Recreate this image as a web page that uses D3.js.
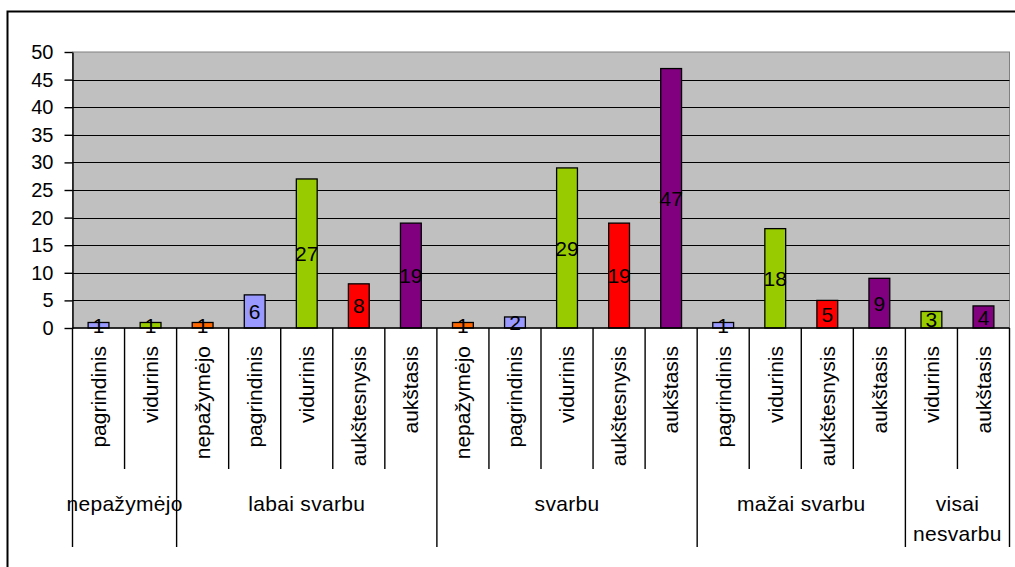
<!DOCTYPE html>
<html>
<head>
<meta charset="utf-8">
<script src="https://cdn.jsdelivr.net/npm/d3@7"></script>
<style>
  body { margin: 0; background: #fff; }
  svg { display: block; }
  text { font-family: "Liberation Sans", Arial, sans-serif; fill: #000; }
</style>
</head>
<body>
<svg id="chart" width="1015" height="567"></svg>
<script>
// Importance groups and the education levels answered inside each
const groupNames = ["nepažymėjo", "labai svarbu", "svarbu", "mažai svarbu", "visai nesvarbu"];
const groupLevels = [
  ["pagrindinis", "vidurinis"],
  ["nepažymėjo", "pagrindinis", "vidurinis", "aukštesnysis", "aukštasis"],
  ["nepažymėjo", "pagrindinis", "vidurinis", "aukštesnysis", "aukštasis"],
  ["pagrindinis", "vidurinis", "aukštesnysis", "aukštasis"],
  ["vidurinis", "aukštasis"]
];
const groupValues = [
  [1, 1],
  [1, 6, 27, 8, 19],
  [1, 2, 29, 19, 47],
  [1, 18, 5, 9],
  [3, 4]
];
const levelNames = ["nepažymėjo", "pagrindinis", "vidurinis", "aukštesnysis", "aukštasis"];
const levelColors = ["#FF6600", "#9999FF", "#99CC00", "#FF0000", "#800080"];
const yTicks = [0, 5, 10, 15, 20, 25, 30, 35, 40, 45, 50];

const bars = groupNames.flatMap((g, gi) =>
  groupLevels[gi].map((lv, li) => ({ group: g, gi, level: lv, value: groupValues[gi][li], key: gi + "|" + lv }))
);

const svg = d3.select("#chart");
const W = 1015, H = 567;
const plot = { left: 72.5, top: 52, right: 1009.5, bottom: 328 };
const innerDivEnd = 469, groupDivEnd = 547;

const x = d3.scaleBand().domain(bars.map(d => d.key)).range([plot.left, plot.right]).padding(0);
const y = d3.scaleLinear().domain([0, 50]).range([plot.bottom, plot.top]);
const color = d3.scaleOrdinal().domain(levelNames).range(levelColors);
const bw = x.bandwidth();
const barW = bw * 0.4;

svg.append("rect").attr("width", W).attr("height", H).attr("fill", "#fff");

// outer chart frame
svg.append("rect")
  .attr("x", 7.5).attr("y", 11.5).attr("width", W + 20).attr("height", H + 20)
  .attr("fill", "none").attr("stroke", "#000").attr("stroke-width", 2);

// plot area
svg.append("rect")
  .attr("x", plot.left).attr("y", plot.top)
  .attr("width", plot.right - plot.left).attr("height", plot.bottom - plot.top)
  .attr("fill", "#C0C0C0").attr("stroke", "#808080").attr("stroke-width", 1);

// horizontal gridlines
svg.append("g").selectAll("line")
  .data(yTicks.filter(t => t > 0 && t < 50))
  .join("line")
  .attr("x1", plot.left).attr("x2", plot.right)
  .attr("y1", d => Math.round(y(d)) + 0.5).attr("y2", d => Math.round(y(d)) + 0.5)
  .attr("stroke", "#000").attr("stroke-width", 1.2);

// y axis
const yAxis = svg.append("g")
  .attr("transform", `translate(${plot.left},0)`)
  .call(d3.axisLeft(y).tickValues(yTicks).tickSize(8).tickPadding(11).tickSizeOuter(0));
yAxis.select(".domain").attr("stroke", "#000").attr("stroke-width", 1.4);
yAxis.selectAll(".tick line").attr("stroke", "#000").attr("stroke-width", 1.4);
yAxis.selectAll(".tick text")
  .attr("font-family", "Liberation Sans, Arial, sans-serif")
  .attr("font-size", 20).attr("fill", "#000");

// bars
svg.append("g").selectAll("rect")
  .data(bars)
  .join("rect")
  .attr("x", d => x(d.key) + (bw - barW) / 2)
  .attr("y", d => y(d.value))
  .attr("width", barW)
  .attr("height", d => y(0) - y(d.value))
  .attr("fill", d => color(d.level))
  .attr("stroke", "#000").attr("stroke-width", 1.3);

// value labels, centred in each bar
svg.append("g").selectAll("text")
  .data(bars)
  .join("text")
  .attr("x", d => x(d.key) + bw / 2)
  .attr("y", d => (y(d.value) + y(0)) / 2)
  .attr("dy", "0.36em")
  .attr("text-anchor", "middle")
  .attr("font-size", 21)
  .text(d => d.value);

// category axis baseline
svg.append("line")
  .attr("x1", plot.left).attr("x2", plot.right)
  .attr("y1", plot.bottom).attr("y2", plot.bottom)
  .attr("stroke", "#000").attr("stroke-width", 1.4);

// dividers between categories and groups
const groupStarts = new Set();
let acc = 0;
groupLevels.forEach(l => { groupStarts.add(acc); acc += l.length; });
groupStarts.add(acc);
svg.append("g").selectAll("line")
  .data(d3.range(bars.length + 1))
  .join("line")
  .attr("x1", i => plot.left + i * bw).attr("x2", i => plot.left + i * bw)
  .attr("y1", plot.bottom)
  .attr("y2", i => groupStarts.has(i) ? groupDivEnd : innerDivEnd)
  .attr("stroke", "#000").attr("stroke-width", 1.4);

// rotated category labels
svg.append("g").selectAll("text")
  .data(bars)
  .join("text")
  .attr("transform", d => `translate(${x(d.key) + bw / 2},346) rotate(-90)`)
  .attr("dy", "0.35em")
  .attr("text-anchor", "end")
  .attr("font-size", 21)
  .text(d => d.level);

// group labels (wrapped when wider than their span)
const groupG = svg.append("g");
groupNames.forEach((g, gi) => {
  const first = bars.findIndex(b => b.gi === gi);
  const n = groupLevels[gi].length;
  const x0 = plot.left + first * bw, x1 = x0 + n * bw;
  const cx = (x0 + x1) / 2;
  const t = groupG.append("text")
    .attr("x", cx).attr("y", 511)
    .attr("text-anchor", "middle")
    .attr("font-size", 21)
    .attr("letter-spacing", 0.3)
    .text(g);
  const words = g.split(" ");
  if (t.node().getComputedTextLength() > (x1 - x0) && words.length > 1) {
    t.text(null);
    words.forEach((w, wi) => {
      t.append("tspan").attr("x", cx).attr("dy", wi === 0 ? 0 : 29.5).text(w);
    });
  }
});
</script>
</body>
</html>
